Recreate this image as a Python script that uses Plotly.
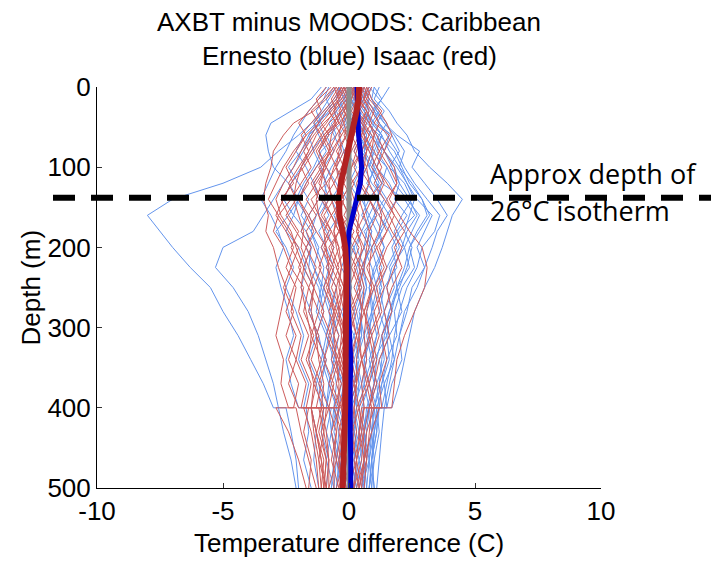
import plotly.graph_objects as go

# ---------------- data ----------------
depth = [0, 15, 30, 45, 60, 80, 100, 120, 140, 160, 180, 200, 225, 250,
         280, 310, 340, 370, 400, 400, 430, 465, 500]

ernesto_profiles = [
    [-0.3, -0.6, -1.0, -1.5, -2.0, -2.8, -3.5, -5.0, -7.0, -8.0, -7.5, -7.0, -6.3, -5.5, -5.0, -4.4, -3.9, -3.4, -3.0, -2.5, -2.3, -2.1, -2.0],
    [0.2, -0.3, -0.8, -1.2, -1.5, -1.8, -2.2, -2.6, -3.0, -3.4, -3.8, -5.0, -5.3, -4.6, -4.0, -3.6, -3.3, -3.0, -2.8, -2.8, -2.6, -2.3, -2.1],
    [-1.1, -1.5, -2.3, -3.1, -3.3, -3.2, -3.0, -2.4, -2.0, -2.2, -1.7, -1.5, -1.6, -1.2, -1.0, -1.3, -0.9, -1.1, -0.8, -0.8, -0.7, -0.9, -0.6],
    [0.8, 1.2, 1.6, 1.9, 2.3, 2.6, 3.2, 3.9, 4.5, 4.1, 3.9, 3.7, 3.4, 3.0, 2.6, 2.4, 2.2, 2.0, 1.7, 1.4, 1.3, 1.2, 1.1],
    [1.6, 1.3, 1.0, 1.4, 1.9, 2.8, 2.5, 3.0, 3.5, 3.9, 3.5, 3.3, 3.0, 2.7, 2.2, 2.0, 2.1, 1.7, 1.5, 1.2, 1.0, 0.9, 0.8],
    [0.3, 0.5, 0.4, 0.8, 1.0, 1.3, 1.1, 1.6, 1.9, 1.5, 1.2, 1.4, 1.0, 0.8, 0.9, 0.6, 0.7, 0.5, 0.6, 0.6, 0.4, 0.5, 0.3],
    [-0.2, -0.5, -0.9, -1.2, -1.0, -1.5, -1.9, -2.3, -2.6, -2.2, -2.5, -2.0, -1.7, -1.9, -1.5, -1.3, -1.6, -1.2, -1.0, -1.0, -1.1, -0.8, -0.9],
    [0.6, 0.4, 0.9, 0.7, 1.2, 0.9, 1.5, 1.3, 2.2, 2.6, 2.0, 1.7, 1.9, 1.4, 1.2, 1.5, 1.0, 0.8, 1.1, 0.7, 0.6, 0.8, 0.5],
    [-0.6, -0.9, -0.7, -1.3, -1.8, -2.1, -1.7, -1.4, -1.1, -0.8, -1.2, -0.9, -0.6, -0.8, -0.4, -0.7, -0.5, -0.3, -0.5, -0.5, -0.2, -0.4, -0.1],
    [0.1, 0.3, 0.0, 0.4, 0.7, 0.5, 0.9, 1.2, 0.8, 1.1, 0.6, 0.9, 0.5, 0.7, 0.4, 0.6, 0.3, 0.5, 0.2, 0.2, 0.4, 0.1, 0.3],
    [0.9, 0.6, 1.1, 1.5, 1.2, 1.8, 2.1, 2.4, 2.9, 3.2, 2.8, 2.4, 2.6, 2.1, 1.8, 1.9, 1.5, 1.3, 1.0, 0.8, 0.9, 0.7, 0.6],
    [-0.4, -0.2, -0.6, -0.4, -0.9, -0.6, -1.0, -1.4, -1.2, -1.6, -1.3, -1.7, -1.4, -1.1, -1.3, -0.9, -1.1, -0.8, -0.9, -0.6, -0.7, -0.5, -0.6],
    [0.2, 0.0, 0.3, 0.1, 0.5, 0.2, 0.6, 0.9, 1.4, 1.0, 1.3, 0.9, 1.1, 0.8, 1.0, 0.7, 0.9, 0.6, 0.8, 0.8, 0.5, 0.6, 0.4],
    [-0.1, -0.4, -0.2, -0.7, -0.5, -1.1, -1.4, -1.8, -2.1, -1.7, -1.9, -1.5, -1.8, -1.4, -1.6, -1.2, -1.0, -1.3, -1.1, -0.7, -0.9, -0.6, -0.7],
    [0.5, 0.8, 0.6, 1.0, 0.8, 1.4, 1.7, 2.0, 1.8, 2.3, 1.9, 2.2, 1.7, 1.5, 1.7, 1.3, 1.4, 1.1, 1.2, 1.2, 0.9, 1.0, 0.8],
    [0.0, -0.2, 0.1, -0.3, 0.2, -0.1, 0.3, 0.0, 0.4, 0.1, -0.2, 0.2, -0.1, 0.1, -0.3, 0.0, -0.2, 0.1, -0.1, -0.1, 0.1, -0.1, 0.0],
    [1.2, 1.0, 1.4, 1.1, 1.7, 2.0, 1.6, 2.2, 2.5, 2.1, 1.8, 2.0, 1.6, 1.8, 1.4, 1.6, 1.2, 1.4, 1.1, 0.9, 1.0, 0.8, 0.9],
    [-0.8, -1.0, -1.3, -1.1, -1.6, -1.9, -2.4, -2.0, -1.6, -1.9, -1.5, -1.2, -1.4, -1.0, -1.2, -0.8, -1.0, -0.7, -0.9, -0.4, -0.6, -0.3, -0.5],
    [0.4, 0.2, 0.5, 0.3, 0.6, 0.9, 0.7, 0.4, 0.8, 0.5, 0.9, 0.6, 0.3, 0.5, 0.2, 0.4, 0.1, 0.3, 0.0, 0.0, 0.2, -0.1, 0.1],
    [-0.3, -0.1, -0.5, -0.8, -0.6, -0.3, -0.7, -1.0, -0.8, -1.2, -0.9, -0.6, -0.9, -0.5, -0.7, -0.4, -0.6, -0.2, -0.4, -0.4, -0.1, -0.3, 0.0],
    [0.7, 0.9, 1.2, 0.9, 1.3, 1.1, 1.5, 1.8, 2.3, 2.8, 2.5, 2.2, 2.4, 1.9, 2.1, 1.6, 1.8, 1.4, 1.5, 1.0, 1.1, 0.9, 1.0],
    [0.1, -0.2, -0.5, -0.3, -0.8, -1.2, -0.9, -0.5, -0.2, -0.6, -0.3, 0.0, -0.3, 0.1, -0.2, 0.2, -0.1, 0.3, 0.0, 0.0, 0.2, 0.1, 0.3],
    [0.3, 0.6, 0.3, 0.7, 0.4, 0.8, 1.1, 0.7, 1.2, 1.6, 1.3, 1.0, 1.3, 1.0, 0.7, 0.9, 0.6, 0.8, 0.5, 0.5, 0.7, 0.4, 0.6],
    [-0.5, -0.8, -1.1, -1.4, -1.2, -0.9, -1.3, -1.7, -2.0, -2.4, -2.9, -2.5, -2.2, -2.5, -2.1, -1.8, -2.0, -1.6, -1.8, -1.5, -1.3, -1.4, -1.2],
    [0.8, 0.5, 0.8, 0.5, 0.9, 0.6, 1.0, 1.3, 1.1, 0.8, 1.1, 1.4, 1.1, 1.3, 0.9, 1.1, 0.8, 1.0, 0.7, 0.7, 0.9, 0.6, 0.7],
    [0.0, 0.2, -0.1, 0.2, 0.4, 0.7, 0.5, 0.2, 0.5, 0.8, 0.5, 0.3, 0.6, 0.3, 0.5, 0.2, 0.4, 0.2, 0.3, 0.3, 0.1, 0.3, 0.2],
    [1.0, 1.3, 0.9, 1.2, 1.6, 1.4, 1.9, 2.3, 2.7, 3.3, 3.0, 2.7, 3.0, 2.5, 2.3, 2.0, 1.8, 1.6, 1.4, 1.1, 1.2, 1.0, 0.9],
    [-0.2, 0.0, -0.3, -0.1, -0.4, -0.2, -0.5, -0.3, -0.7, -0.4, -0.8, -1.1, -0.8, -1.0, -0.7, -0.9, -0.6, -0.8, -0.5, -0.5, -0.7, -0.4, -0.5],
    [0.5, 0.3, 0.6, 0.9, 1.3, 1.0, 0.8, 1.1, 1.5, 1.2, 1.6, 1.9, 1.5, 1.2, 1.4, 1.1, 0.9, 1.1, 0.8, 0.8, 0.6, 0.7, 0.5],
    [-0.1, 0.1, 0.3, 0.0, 0.2, -0.2, 0.0, -0.4, -0.1, 0.2, 0.5, 0.2, 0.4, 0.6, 0.3, 0.5, 0.2, 0.4, 0.1, 0.1, 0.3, 0.2, 0.4],
    [0.4, 0.7, 1.0, 1.2, 1.5, 1.9, 2.2, 2.6, 3.1, 3.6, 3.4, 2.9, 2.7, 2.3, 2.0, 1.8, 1.7, 1.5, 1.3, 1.1, 1.0, 0.9, 0.8],
    [0.2, 0.3, 0.6, 0.8, 1.1, 1.4, 1.8, 2.0, 2.4, 2.7, 2.3, 2.1, 1.8, 1.9, 1.6, 1.4, 1.3, 1.2, 1.0, 1.0, 0.9, 0.8, 0.7],
    [-0.9, -1.2, -1.6, -1.9, -2.2, -2.5, -2.9, -3.2, -3.5, -3.1, -2.8, -2.6, -2.9, -2.7, -2.4, -2.2, -2.5, -2.3, -2.0, -1.7, -1.6, -1.8, -1.5],
    [0.6, 0.8, 0.7, 1.0, 1.3, 1.6, 2.0, 2.5, 2.9, 3.1, 2.7, 2.4, 2.2, 1.9, 1.7, 1.5, 1.6, 1.3, 1.2, 1.2, 1.1, 0.9, 1.0],
    [0.0, 0.1, 0.3, 0.6, 0.6, 0.9, 1.0, 0.8, 0.6, 0.7, 0.9, 0.8, 0.6, 0.7, 0.5, 0.5, 0.3, 0.4, 0.3, 0.3, 0.2, 0.4, 0.2],
    [-0.4, -0.5, -0.9, -1.3, -1.6, -1.4, -1.1, -0.9, -1.0, -1.3, -1.5, -1.3, -1.0, -1.1, -0.8, -0.6, -0.7, -0.5, -0.6, -0.6, -0.4, -0.5, -0.3],
    [1.0, 0.9, 1.1, 1.4, 1.8, 2.2, 2.0, 2.3, 2.6, 2.4, 2.2, 2.5, 2.3, 2.0, 1.6, 1.3, 1.1, 1.0, 0.8, 0.8, 0.7, 0.6, 0.5],
    [0.3, 0.2, 0.2, 0.5, 0.7, 0.6, 0.8, 1.1, 1.2, 1.0, 0.7, 0.6, 0.9, 1.1, 0.9, 0.8, 0.6, 0.6, 0.4, 0.4, 0.5, 0.3, 0.2],
]

isaac_profiles = [
    [-0.5, -0.9, -1.4, -2.2, -2.6, -3.0, -3.1, -3.3, -3.4, -3.2, -3.3, -3.0, -2.8, -2.5, -2.7, -2.9, -2.6, -2.7, -2.4, -2.1, -1.9, -1.6, -1.3],
    [0.3, 0.1, -0.3, -0.6, -1.0, -1.4, -1.8, -2.3, -2.6, -2.9, -2.5, -2.2, -2.5, -2.1, -2.3, -1.9, -2.1, -1.7, -1.9, -1.5, -1.4, -1.2, -1.1],
    [0.6, 0.8, 1.2, 1.5, 1.7, 1.4, 1.8, 1.9, 1.6, 2.0, 2.4, 2.9, 3.1, 3.0, 2.6, 2.2, 1.9, 1.8, 1.7, 0.9, 0.8, 0.7, 0.6],
    [-0.2, -0.5, -0.3, -0.8, -1.1, -0.8, -1.3, -1.7, -2.0, -1.6, -1.9, -1.5, -1.8, -1.4, -1.6, -1.2, -1.5, -1.1, -1.3, -0.9, -1.0, -0.8, -0.9],
    [0.4, 0.6, 0.3, 0.7, 0.5, 0.2, 0.5, 0.1, -0.3, 0.0, 0.4, 0.1, 0.5, 0.2, 0.6, 0.3, 0.5, 0.2, 0.4, 0.4, 0.1, 0.3, 0.0],
    [0.1, -0.2, -0.6, -0.4, -0.9, -1.3, -1.0, -1.4, -1.1, -0.7, -1.0, -0.6, -0.9, -0.5, -0.8, -0.4, -0.7, -0.3, -0.6, -0.6, -0.3, -0.5, -0.2],
    [0.7, 0.9, 1.3, 1.0, 1.6, 1.2, 0.9, 1.3, 0.8, 1.2, 1.5, 1.1, 1.4, 1.0, 1.2, 0.8, 1.0, 0.7, 0.9, 0.5, 0.4, 0.6, 0.3],
    [-0.6, -1.0, -1.5, -1.2, -1.7, -2.1, -2.5, -2.2, -2.7, -2.4, -2.0, -2.3, -1.9, -2.2, -2.5, -2.1, -2.4, -2.0, -2.2, -2.9, -2.4, -2.0, -1.7],
    [0.2, 0.0, 0.4, 0.1, -0.2, 0.1, -0.3, -0.6, -0.3, -0.7, -0.4, -0.8, -0.5, -0.2, -0.5, -0.1, -0.4, 0.0, -0.3, -0.3, -0.1, -0.4, -0.2],
    [0.5, 0.3, 0.7, 0.9, 0.6, 1.0, 1.3, 1.0, 1.4, 1.8, 1.5, 1.2, 1.5, 1.1, 1.3, 0.9, 1.1, 0.8, 1.0, 1.0, 0.7, 0.6, 0.5],
    [-0.1, -0.4, -0.8, -0.5, -1.0, -0.7, -1.2, -0.9, -1.5, -1.2, -0.8, -1.1, -0.7, -1.0, -0.6, -0.9, -0.5, -0.8, -0.4, -0.4, -0.7, -0.5, -0.8],
    [0.0, 0.3, 0.1, 0.4, 0.2, -0.2, -0.5, -0.2, -0.6, -0.3, 0.0, -0.3, 0.1, -0.2, 0.2, -0.1, 0.1, -0.2, 0.0, 0.0, -0.3, -0.1, -0.3],
    [-0.4, -0.7, -0.5, -1.0, -1.4, -1.8, -1.5, -1.9, -2.3, -2.8, -3.0, -2.6, -2.3, -2.6, -2.2, -2.5, -2.1, -2.4, -2.0, -1.6, -1.8, -1.5, -1.6],
    [0.3, 0.5, 0.2, 0.6, 0.9, 1.2, 1.6, 1.9, 1.5, 1.8, 2.2, 1.8, 2.1, 1.7, 1.4, 1.6, 1.2, 1.0, 0.8, 1.2, 0.9, 0.6, 0.4],
    [-0.3, -0.1, -0.4, -0.2, -0.5, -0.8, -0.5, -0.9, -0.6, -1.0, -0.7, -0.4, -0.7, -0.3, -0.6, -0.2, -0.5, -0.1, -0.4, -1.8, -1.5, -1.3, -1.2],
    [0.8, 0.6, 0.9, 1.2, 1.0, 0.7, 0.4, 0.8, 0.5, 0.2, 0.5, 0.8, 0.5, 0.9, 0.6, 0.9, 0.5, 0.8, 0.4, 0.4, 0.6, 0.3, 0.5],
    [-0.7, -1.2, -1.6, -2.0, -1.7, -2.2, -2.6, -2.9, -3.2, -2.8, -2.4, -2.0, -2.3, -1.8, -2.0, -1.6, -1.9, -1.5, -1.7, -1.2, -1.0, -1.2, -0.9],
    [0.1, 0.4, 0.2, 0.5, 0.8, 0.5, 0.2, 0.5, 0.9, 0.6, 0.3, 0.6, 0.2, 0.5, 0.1, 0.3, 0.0, 0.2, -0.1, -0.1, 0.1, -0.2, 0.0],
    [-0.2, 0.0, -0.3, -0.6, -0.3, -0.7, -1.1, -1.5, -1.2, -1.6, -1.3, -0.9, -1.2, -0.8, -1.1, -0.7, -1.0, -0.6, -0.8, -0.8, -0.5, -0.7, -0.4],
    [0.5, 0.7, 0.4, 0.2, 0.5, 0.8, 1.1, 1.4, 1.1, 1.4, 1.7, 2.1, 1.8, 1.5, 1.7, 1.3, 1.5, 1.2, 1.3, 0.8, 0.6, 0.5, 0.2],
    [0.0, -0.3, 0.0, -0.4, -0.1, -0.5, -0.2, 0.1, -0.3, 0.0, -0.4, -0.1, -0.5, -0.2, -0.4, -0.1, -0.3, 0.0, -0.2, -0.2, 0.0, -0.3, -0.1],
    [-0.9, -1.3, -1.1, -1.5, -1.9, -1.6, -2.0, -2.4, -2.1, -2.5, -2.1, -1.7, -2.0, -1.6, -1.8, -1.4, -1.7, -1.3, -1.5, -1.1, -1.3, -1.0, -1.1],
    [0.6, 0.4, 0.7, 0.4, 0.1, 0.4, 0.7, 0.4, 0.8, 1.1, 0.8, 1.1, 0.7, 1.0, 0.6, 0.8, 0.5, 0.7, 0.3, 0.3, 0.5, 0.2, 0.4],
    [-0.5, -0.3, -0.7, -1.1, -0.8, -1.2, -0.9, -1.3, -1.7, -1.3, -1.7, -1.4, -1.1, -1.4, -1.0, -1.3, -0.9, -1.2, -0.8, -0.8, -1.1, -0.9, -1.0],
    [0.2, 0.4, 0.7, 0.5, 0.8, 0.5, 0.1, -0.2, 0.1, -0.2, 0.2, -0.1, 0.3, 0.0, 0.3, 0.0, 0.2, -0.1, 0.1, 0.1, -0.1, 0.1, -0.2],
    [-0.1, 0.1, -0.2, 0.0, -0.3, -0.6, -0.9, -0.6, -1.0, -0.7, -0.4, -0.7, -0.4, -0.7, -0.3, -0.6, -0.3, -0.5, -0.2, -0.2, -0.4, -0.2, -0.5],
    [0.9, 0.7, 1.0, 0.8, 1.1, 1.4, 1.1, 1.5, 1.9, 1.6, 1.9, 1.5, 1.2, 1.4, 1.0, 1.2, 0.9, 1.1, 0.8, 0.6, 0.5, 0.7, 0.4],
    [-0.3, -0.6, -1.0, -1.4, -1.1, -1.5, -1.9, -1.6, -2.0, -1.7, -1.4, -1.7, -1.3, -1.6, -1.2, -1.5, -1.1, -1.4, -1.0, -1.0, -1.2, -0.9, -1.0],
    [0.3, 0.1, -0.2, 0.1, 0.4, 0.1, -0.2, 0.2, -0.1, 0.3, 0.0, 0.4, 0.1, 0.4, 0.0, 0.3, 0.1, 0.3, 0.0, 0.0, 0.2, 0.0, 0.2],
    [-0.6, -0.4, -0.8, -0.5, -0.9, -1.2, -0.9, -1.2, -0.8, -1.1, -0.7, -1.0, -0.6, -0.9, -0.5, -0.8, -0.4, -0.7, -0.3, -1.5, -1.3, -1.1, -0.9],
    [0.1, 0.0, -0.2, -0.5, -0.7, -0.8, -1.0, -1.1, -1.3, -1.2, -1.0, -0.9, -0.8, -0.8, -0.6, -0.6, -0.5, -0.4, -0.4, -0.4, -0.5, -0.6, -0.6],
    [0.5, 0.4, 0.3, 0.4, 0.6, 0.7, 0.6, 0.3, 0.4, 0.6, 0.8, 0.7, 0.6, 0.4, 0.5, 0.4, 0.3, 0.3, 0.2, 0.2, 0.1, 0.1, 0.0],
    [-0.2, -0.4, -0.6, -0.9, -1.3, -1.6, -1.9, -2.1, -2.2, -2.0, -1.8, -1.9, -1.6, -1.4, -1.5, -1.3, -1.2, -1.0, -1.1, -1.1, -0.9, -0.8, -0.8],
    [0.3, 0.2, 0.5, 0.8, 1.0, 0.9, 0.7, 0.8, 1.1, 1.3, 1.2, 0.9, 0.8, 0.9, 0.7, 0.6, 0.7, 0.5, 0.6, 0.6, 0.4, 0.3, 0.2],
    [0.0, -0.1, -0.1, -0.3, -0.4, -0.3, -0.6, -0.8, -0.7, -0.5, -0.6, -0.4, -0.3, -0.5, -0.4, -0.3, -0.4, -0.2, -0.3, -0.3, -0.2, -0.2, -0.4],
    [-0.3, -0.5, -0.9, -1.2, -1.5, -1.9, -2.2, -2.6, -2.9, -2.7, -2.3, -2.1, -1.8, -1.9, -1.7, -1.5, -1.6, -1.4, -1.5, -1.5, -1.3, -1.1, -1.0],
    [0.7, 0.6, 0.8, 0.6, 0.5, 0.3, 0.1, 0.0, 0.2, 0.4, 0.3, 0.5, 0.4, 0.6, 0.5, 0.4, 0.5, 0.3, 0.2, 0.2, 0.3, 0.1, 0.1],
    [0.2, 0.1, 0.0, -0.2, -0.1, -0.4, -0.5, -0.4, -0.2, -0.4, -0.6, -0.5, -0.3, -0.4, -0.2, -0.3, -0.1, -0.2, -0.1, -0.1, -0.3, -0.4, -0.3],
]

ernesto_mean = [0.32, 0.33, 0.35, 0.36, 0.38, 0.45, 0.5, 0.45, 0.3, 0.15, 0.0, -0.05, -0.07, -0.05,
                -0.02, 0.03, 0.07, 0.05, 0.04, 0.04, 0.05, 0.07, 0.07]
isaac_mean = [0.4, 0.38, 0.3, 0.2, 0.08, -0.08, -0.2, -0.32, -0.4, -0.38, -0.25, -0.15, -0.1, -0.1,
              -0.1, -0.1, -0.12, -0.13, -0.15, -0.15, -0.18, -0.22, -0.25]
zero_ref = [0.0] * len(depth)

isotherm_depth = 138
x_ticks = [-10, -5, 0, 5, 10]
y_ticks = [0, 100, 200, 300, 400, 500]

title_lines = ["AXBT minus MOODS: Caribbean", "Ernesto (blue) Isaac (red)"]
note_lines = ["Approx depth of", "26°C isotherm"]

# ---------------- figure ----------------
fig = go.Figure()

for prof in ernesto_profiles:
    fig.add_trace(go.Scatter(x=prof, y=depth, mode="lines",
                             line=dict(color="#6495ED", width=1),
                             showlegend=False, hoverinfo="skip"))
for prof in isaac_profiles:
    fig.add_trace(go.Scatter(x=prof, y=depth, mode="lines",
                             line=dict(color="#CD5C5C", width=1),
                             showlegend=False, hoverinfo="skip"))

fig.add_trace(go.Scatter(x=zero_ref, y=depth, mode="lines",
                         line=dict(color="#8C8C8C", width=5),
                         showlegend=False, hoverinfo="skip"))
fig.add_trace(go.Scatter(x=ernesto_mean, y=depth, mode="lines",
                         line=dict(color="#0000CC", width=5),
                         showlegend=False, hoverinfo="skip"))
fig.add_trace(go.Scatter(x=isaac_mean, y=depth, mode="lines",
                         line=dict(color="#B22222", width=6),
                         showlegend=False, hoverinfo="skip"))

L, R, T, B = 97, 110, 87, 73
W, H = 711, 561
pw, ph = W - L - R, H - T - B

def px_x(px):
    return (px - L) / pw

def px_y(py):
    return (H - B - py) / ph

fig.add_shape(type="line", xref="paper", yref="paper",
              x0=px_x(53), x1=px_x(711),
              y0=1 - isotherm_depth / 500, y1=1 - isotherm_depth / 500,
              line=dict(color="black", width=6, dash="22px,16px"))

tfont = dict(family="Liberation Sans, Arial, sans-serif", size=26, color="black")
for txt, yc in zip(title_lines, [21.7, 55.5]):
    fig.add_annotation(text=txt, xref="paper", yref="paper", x=0.5, y=px_y(yc),
                       xanchor="center", yanchor="middle", showarrow=False, font=tfont)

nfont = dict(family="Open Sans, Noto Sans, sans-serif", size=27, color="black")
for txt, yc in zip(note_lines, [173.3, 210.0]):
    fig.add_annotation(text=txt, xref="paper", yref="paper", x=px_x(488), y=px_y(yc),
                       xanchor="left", yanchor="middle", showarrow=False, font=nfont)

fig.add_annotation(text="Temperature difference (C)", xref="paper", yref="paper",
                   x=0.5, y=px_y(543), xanchor="center", yanchor="middle",
                   showarrow=False, font=tfont)
fig.add_annotation(text="Depth (m)", xref="paper", yref="paper",
                   x=px_x(30), y=0.5, xanchor="center", yanchor="middle",
                   textangle=-90, showarrow=False, font=tfont)

axis_common = dict(showgrid=False, zeroline=False, showline=True, linecolor="black",
                   linewidth=1, ticks="inside", ticklen=5, tickcolor="#333333",
                   tickfont=tfont, mirror=False)

fig.update_xaxes(range=[-10, 10], tickvals=x_ticks, ticktext=[str(v) for v in x_ticks],
                 **axis_common)
fig.update_yaxes(range=[500, 0], tickvals=y_ticks, ticktext=[str(v) for v in y_ticks],
                 **axis_common)

fig.update_layout(width=W, height=H, margin=dict(l=L, r=R, t=T, b=B),
                  plot_bgcolor="white", paper_bgcolor="white", showlegend=False)

fig.write_html("out.html")
